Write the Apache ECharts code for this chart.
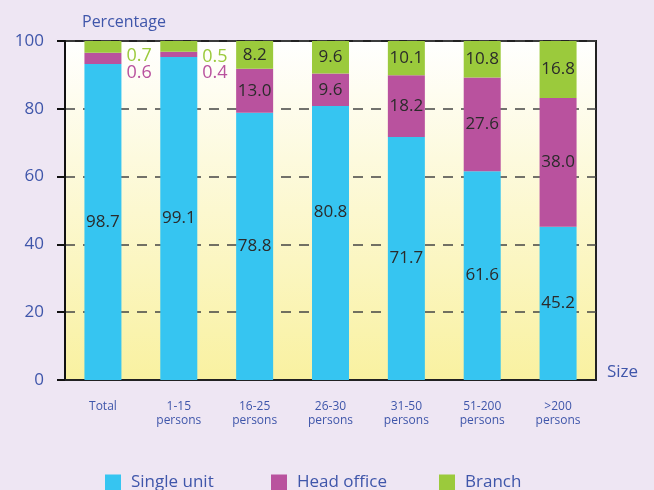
<!DOCTYPE html>
<html>
<head>
<meta charset="utf-8">
<script src="https://cdn.jsdelivr.net/npm/echarts@6/dist/echarts.min.js"></script>
<style>
html,body{margin:0;padding:0;background:#eee6f3;}
#chart{width:654px;height:490px;}
</style>
</head>
<body>
<div id="chart"></div>
<script>
// ---- data ----
var categories = ['Total', '1-15\npersons', '16-25\npersons', '26-30\npersons', '31-50\npersons', '51-200\npersons', '>200\npersons'];
// segment heights as drawn in the reference
var singleUnit = [93.2, 95.3, 78.8, 80.8, 71.7, 61.6, 45.2];
var headOffice = [3.3, 1.5, 13.0, 9.6, 18.2, 27.6, 38.0];
var branch = [3.5, 3.2, 8.2, 9.6, 10.1, 10.8, 16.8];
// value labels printed in the reference
var singleUnitLabels = ['98.7', '99.1', '78.8', '80.8', '71.7', '61.6', '45.2'];
var headOfficeLabels = ['0.6', '0.4', '13.0', '9.6', '18.2', '27.6', '38.0'];
var branchLabels = ['0.7', '0.5', '8.2', '9.6', '10.1', '10.8', '16.8'];
var seriesNames = ['Single unit', 'Head office', 'Branch'];

var colors = ['#36c5f1', '#b9529e', '#9bca3c'];
var textBlue = '#3f56aa';
var FONT = 'Open Sans';

function buildData(values, labels, outsideIdx, color, outsideOffsets, shifted) {
  return values.map(function (v, i) {
    var lbl = { show: true, formatter: labels[i] };
    if (outsideIdx.indexOf(i) >= 0) {
      lbl.position = 'right';
      lbl.distance = 5;
      lbl.color = color;
      lbl.fontSize = 18;
      lbl.offset = outsideOffsets[outsideIdx.indexOf(i)];
    }
    if (shifted && shifted[i]) {
      lbl.position = 'inside';
      lbl.offset = shifted[i];
    }
    return { value: v, label: lbl };
  });
}

function baseLabel() {
  return { show: true, position: 'inside', color: '#2b2b2b', fontSize: 17, fontFamily: FONT };
}

var chart = echarts.init(document.getElementById('chart'), null, { renderer: 'canvas' });
chart.setOption({
  backgroundColor: '#eee6f3',
  animation: false,
  grid: {
    left: 65, right: 58, top: 41, bottom: 110,
    show: true,
    borderColor: '#222',
    borderWidth: 2,
    backgroundColor: new echarts.graphic.LinearGradient(0, 0, 0, 1, [
      { offset: 0, color: '#ffffff' },
      { offset: 1, color: '#f9f1a0' }
    ])
  },
  legend: [0, 1, 2].map(function (k) {
    return {
      data: [seriesNames[k]],
      left: [100, 266, 434][k],
      top: 469,
      itemWidth: 16,
      itemHeight: 16,
      icon: 'rect',
      textStyle: { color: textBlue, fontSize: 17, fontFamily: FONT, padding: [0, 0, 0, 5] }
    };
  }),
  xAxis: {
    type: 'category',
    data: categories,
    axisLine: { lineStyle: { color: '#222', width: 2 } },
    axisTick: { show: false },
    axisLabel: { color: textBlue, fontSize: 12, fontFamily: FONT, margin: 20, lineHeight: 14, interval: 0 }
  },
  yAxis: {
    type: 'value',
    min: 0, max: 100, interval: 20,
    axisLine: { show: true, lineStyle: { color: '#111', width: 2 } },
    axisTick: { show: true, inside: false, length: 8, lineStyle: { color: '#111', width: 2 } },
    axisLabel: { color: textBlue, fontSize: 17, fontFamily: FONT, margin: 21 },
    splitLine: { show: true, lineStyle: { color: '#444', type: [10, 8], width: 1.5 } }
  },
  graphic: [
    { type: 'text', left: 82, top: 14, style: { text: 'Percentage', fill: textBlue, font: '16px "Open Sans"' } },
    { type: 'text', left: 607, top: 364, style: { text: 'Size', fill: textBlue, font: '17px "Open Sans"' } }
  ],
  series: [
    {
      name: seriesNames[0], type: 'bar', stack: 'all', barWidth: 37,
      itemStyle: { color: colors[0] },
      label: baseLabel(),
      data: buildData(singleUnit, singleUnitLabels, [], null, [], [null, null, null, [0, -31], null, null, null])
    },
    {
      name: seriesNames[1], type: 'bar', stack: 'all', barWidth: 37,
      itemStyle: { color: colors[1] },
      label: baseLabel(),
      data: buildData(headOffice, headOfficeLabels, [0, 1], colors[1], [[0, 14], [0, 18]])
    },
    {
      name: seriesNames[2], type: 'bar', stack: 'all', barWidth: 37,
      itemStyle: { color: colors[2] },
      label: baseLabel(),
      data: buildData(branch, branchLabels, [0, 1], colors[2], [[0, 9], [0, 10]])
    }
  ]
});
</script>
</body>
</html>
